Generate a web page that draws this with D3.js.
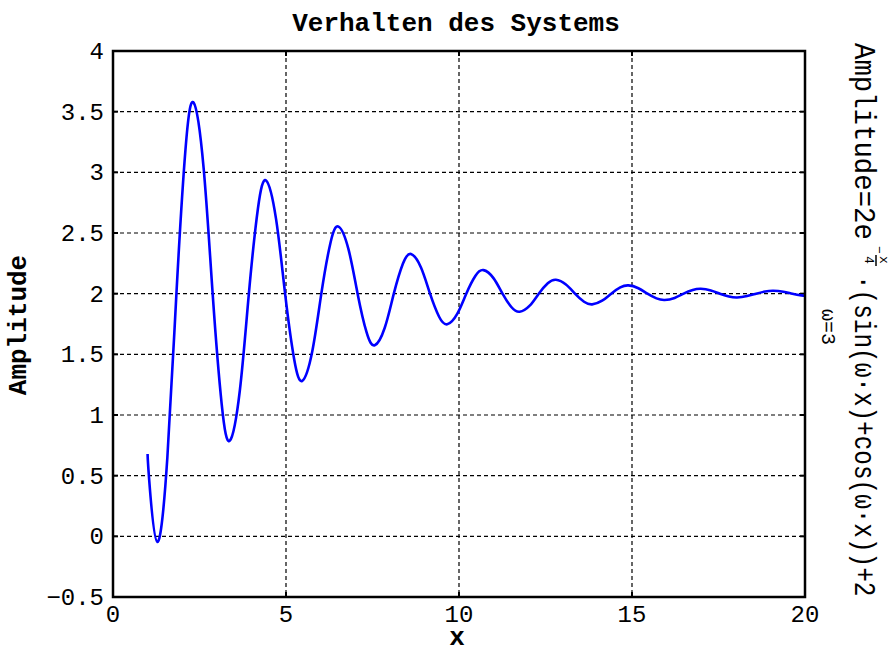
<!DOCTYPE html>
<html>
<head>
<meta charset="utf-8">
<script src="https://cdn.jsdelivr.net/npm/d3@7"></script>
<style>
	body { margin: 0; background: #fff; }
	svg { display: block; }
	.grid line { stroke: #000; stroke-width: 1.2; stroke-dasharray: 4,3; }
	.tick-label { font-family: "Liberation Mono", monospace; font-size: 24px; fill: #000; }
	.bold-label { font-family: "Liberation Mono", monospace; font-weight: bold; font-size: 26px; fill: #000; }
	.formula { font-family: "Liberation Mono", monospace; fill: #000; }
</style>
</head>
<body>
<svg id="visSVG" width="892" height="650"></svg>
<script>

var W = 892, H = 650;
var PLOT_L = 113, PLOT_R = 805, PLOT_T = 51, PLOT_B = 597;
var TICK_LEN = 5;

// values
var xValues = [1.000, 1.047, 1.281, 1.571, 1.833, 2.094, 2.329, 2.618, 2.880, 3.142,
	3.376, 3.665, 3.927, 4.189, 4.423, 4.712, 4.974, 5.236, 5.470, 5.760,
	6.021, 6.283, 6.517, 6.807, 7.069, 7.330, 7.565, 7.854, 8.116, 8.378,
	8.612, 8.901, 9.163, 9.425, 9.659, 9.948, 10.210, 10.472, 10.706, 10.996,
	11.257, 11.519, 11.753, 12.043, 12.305, 12.566, 12.801, 13.090, 13.352, 13.614,
	13.848, 14.137, 14.399, 14.661, 14.895, 15.184, 15.446, 15.708, 15.942, 16.232,
	16.493, 16.755, 16.989, 17.279, 17.541, 17.802, 18.037, 18.326, 18.588, 18.850,
	19.084, 19.373, 19.635, 19.897, 20.000];
var amplitude = [0.678, 0.461, -0.046, 0.650, 2.000, 3.185, 3.575, 3.039, 2.000, 1.088,
	0.788, 1.200, 2.000, 2.702, 2.933, 2.616, 2.000, 1.460, 1.282, 1.526,
	2.000, 2.416, 2.553, 2.365, 2.000, 1.680, 1.575, 1.719, 2.000, 2.246,
	2.327, 2.216, 2.000, 1.810, 1.748, 1.834, 2.000, 2.146, 2.194, 2.128,
	2.000, 1.888, 1.851, 1.901, 2.000, 2.086, 2.115, 2.076, 2.000, 1.933,
	1.912, 1.942, 2.000, 2.051, 2.068, 2.045, 2.000, 1.961, 1.948, 1.965,
	2.000, 2.030, 2.040, 2.027, 2.000, 1.977, 1.969, 1.980, 2.000, 2.018,
	2.024, 2.016, 2.000, 1.986, 1.983];

var xTicks = [0, 5, 10, 15, 20];
var yTicks = [-0.5, 0, 0.5, 1, 1.5, 2, 2.5, 3, 3.5, 4];
var yTickLabels = ["\u22120.5", "0", "0.5", "1", "1.5", "2", "2.5", "3", "3.5", "4"];

var titleText = "Verhalten des Systems";
var xLabel = "x";
var yLabel = "Amplitude";

var svg = d3.select("#visSVG");

var x = d3.scaleLinear().domain([0, 20]).range([PLOT_L, PLOT_R]);
var y = d3.scaleLinear().domain([-0.5, 4]).range([PLOT_B, PLOT_T]);

// dashed grid
var grid = svg.append("g").attr("class", "grid");
grid.selectAll("line.gx")
	.data(xTicks.slice(1, -1))
	.enter().append("line")
	.attr("class", "gx")
	.attr("x1", function(d) { return x(d); }).attr("x2", function(d) { return x(d); })
	.attr("y1", PLOT_T).attr("y2", PLOT_B);
grid.selectAll("line.gy")
	.data(yTicks.slice(1, -1))
	.enter().append("line")
	.attr("class", "gy")
	.attr("x1", PLOT_L).attr("x2", PLOT_R)
	.attr("y1", function(d) { return y(d); }).attr("y2", function(d) { return y(d); });

// inward ticks on all four sides
var ticks = svg.append("g").attr("stroke", "#000").attr("stroke-width", 2);
xTicks.forEach(function(d) {
	ticks.append("line").attr("x1", x(d)).attr("x2", x(d)).attr("y1", PLOT_B).attr("y2", PLOT_B - TICK_LEN);
	ticks.append("line").attr("x1", x(d)).attr("x2", x(d)).attr("y1", PLOT_T).attr("y2", PLOT_T + TICK_LEN);
});
yTicks.forEach(function(d) {
	ticks.append("line").attr("x1", PLOT_L).attr("x2", PLOT_L + TICK_LEN).attr("y1", y(d)).attr("y2", y(d));
	ticks.append("line").attr("x1", PLOT_R).attr("x2", PLOT_R - TICK_LEN).attr("y1", y(d)).attr("y2", y(d));
});

// the curve
var pts = xValues.map(function(v, i) { return [v, amplitude[i]]; });
var line = d3.line()
	.x(function(d) { return x(d[0]); })
	.y(function(d) { return y(d[1]); })
	.curve(d3.curveNatural);

svg.append("path")
	.datum(pts)
	.attr("d", line)
	.attr("fill", "none")
	.attr("stroke", "#0000ff")
	.attr("stroke-width", 2.6)
	.attr("stroke-linejoin", "round");

// frame
svg.append("rect")
	.attr("x", PLOT_L).attr("y", PLOT_T)
	.attr("width", PLOT_R - PLOT_L).attr("height", PLOT_B - PLOT_T)
	.attr("fill", "none").attr("stroke", "#000").attr("stroke-width", 2.5);

// tick labels
svg.selectAll("text.xt")
	.data(xTicks)
	.enter().append("text")
	.attr("class", "tick-label xt")
	.attr("x", function(d) { return x(d); })
	.attr("y", 622)
	.attr("text-anchor", "middle")
	.text(function(d) { return d; });

svg.selectAll("text.yt")
	.data(yTicks)
	.enter().append("text")
	.attr("class", "tick-label yt")
	.attr("x", 104)
	.attr("y", function(d) { return y(d) + 8; })
	.attr("text-anchor", "end")
	.text(function(d, i) { return yTickLabels[i]; });

// titles
svg.append("text")
	.attr("class", "bold-label")
	.attr("x", 456).attr("y", 31)
	.attr("text-anchor", "middle")
	.text(titleText);

svg.append("text")
	.attr("class", "bold-label")
	.attr("x", 457).attr("y", 645)
	.attr("text-anchor", "middle")
	.attr("font-size", 22)
	.text(xLabel);

svg.append("text")
	.attr("class", "bold-label")
	.attr("transform", "translate(26,325) rotate(-90)")
	.attr("text-anchor", "middle")
	.text(yLabel);

// formula on the right, rotated clockwise; glyphs squeezed along the line
var fg = svg.append("g").attr("transform", "translate(855,43) rotate(90)");
fg.append("text")
	.attr("class", "formula")
	.attr("transform", "scale(0.943,1)")
	.attr("font-size", 29)
	.text("Amplitude=2e");
fg.append("text")
	.attr("class", "formula")
	.attr("x", 203).attr("y", -20)
	.attr("font-size", 13)
	.text("\u2212");
fg.append("text")
	.attr("class", "formula")
	.attr("x", 213).attr("y", -25)
	.attr("font-size", 13)
	.text("x");
fg.append("line")
	.attr("x1", 212).attr("x2", 223)
	.attr("y1", -21).attr("y2", -21)
	.attr("stroke", "#000").attr("stroke-width", 1.5);
fg.append("text")
	.attr("class", "formula")
	.attr("x", 213).attr("y", -10)
	.attr("font-size", 13)
	.text("4");
fg.append("text")
	.attr("class", "formula")
	.attr("transform", "translate(232,0) scale(0.84,1)")
	.attr("font-size", 29)
	.text("\u00b7(sin(\u03c9\u00b7x)+cos(\u03c9\u00b7x))+2");
fg.append("text")
	.attr("class", "formula")
	.attr("x", 266).attr("y", 33)
	.attr("font-size", 20)
	.text("\u03c9=3");

</script>
</body>
</html>
